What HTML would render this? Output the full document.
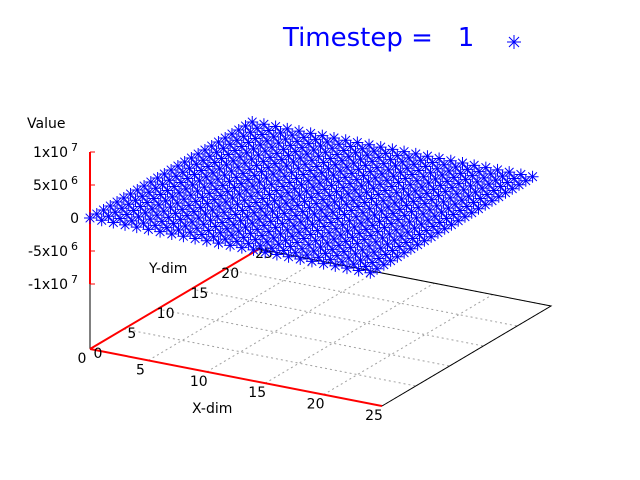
<!DOCTYPE html>
<html><head><meta charset="utf-8"><style>
body{margin:0;background:#fff}
svg{display:block;font-family:"DejaVu Sans","Liberation Sans",sans-serif}
</style></head><body>
<svg id="chart" width="640" height="480" viewBox="0 0 640 480" xmlns="http://www.w3.org/2000/svg">
<rect width="640" height="480" fill="#fff"/>
<g id="grid"></g>
<g id="axes"></g>
<g id="pts"></g>
<text x="283" y="46" font-size="26" fill="#0000ff" xml:space="preserve">Timestep =   1</text>
<g id="legend"></g>
</svg>
<script>
const xTicks=[0,5,10,15,20,25];
const yTicks=[0,5,10,15,20,25];
const zTicks=[1e7,5e6,0,-5e6,-1e7];
const zTickLabels=[["1x10","7"],["5x10","6"],["0",""],["-5x10","6"],["-1x10","7"]];
const xCoords=[0,1,2,3,4,5,6,7,8,9,10,11,12,13,14,15,16,17,18,19,20,21,22,23,24];
const yCoords=[0,1,2,3,4,5,6,7,8,9,10,11,12,13,14,15,16,17,18,19,20,21,22,23,24];
const zRow0=[0,0,0,0,0,0,0,0,0,0,0,0,0,0,0,0,0,0,0,0,0,0,0,0,0];
const zValues=[zRow0,zRow0,zRow0,zRow0,zRow0,zRow0,zRow0,zRow0,zRow0,zRow0,zRow0,zRow0,zRow0,zRow0,zRow0,zRow0,zRow0,zRow0,zRow0,zRow0,zRow0,zRow0,zRow0,zRow0,zRow0];

const NS="http://www.w3.org/2000/svg";
const O={x:90,y:349}, EX={x:292/25,y:57/25}, EY={x:169/25,y:-100/25};
const Z0=218, ZS=132/2e7;
function base(x,y){return {x:O.x+x*EX.x+y*EY.x, y:O.y+x*EX.y+y*EY.y};}
function proj(x,y,z){const b=base(x,y);return {x:b.x, y:b.y-(O.y-Z0)-z*ZS};}
function zY(z){return Z0-z*ZS;}
function el(tag,attrs,parent){const e=document.createElementNS(NS,tag);for(const k in attrs)e.setAttribute(k,attrs[k]);parent.appendChild(e);return e;}

const grid=document.getElementById('grid');
for(const t of xTicks){ if(t===0)continue;
  const a=base(t,0),b=base(t,25);
  const l=el('line',{x1:a.x,y1:a.y,x2:b.x,y2:b.y,stroke:'#a0a0a0','stroke-width':1,'stroke-dasharray':'2,3'},grid);
  
  
}
for(const t of yTicks){ if(t===0)continue;
  const a=base(0,t),b=base(25,t);
  const l=el('line',{x1:a.x,y1:a.y,x2:b.x,y2:b.y,stroke:'#a0a0a0','stroke-width':1,'stroke-dasharray':'2,3'},grid);
  
  
}
const axes=document.getElementById('axes');
{
  const a=base(25,0),b=base(25,25),c=base(0,25);
  const p=el('polyline',{points:`${a.x},${a.y} ${b.x},${b.y} ${c.x},${c.y}`,fill:'none',stroke:'#000','stroke-width':1},axes);
  
  
  const v=el('line',{x1:O.x,y1:O.y,x2:O.x,y2:zY(-1e7),stroke:'#000','stroke-width':1},axes);
  
  
  const xa=base(25,0);
  const xl=el('line',{x1:O.x,y1:O.y,x2:xa.x,y2:xa.y,stroke:'#ff0000','stroke-width':2},axes);
  
  
  const ya=base(0,25);
  const yl=el('line',{x1:O.x,y1:O.y,x2:ya.x,y2:ya.y,stroke:'#ff0000','stroke-width':2},axes);
  
  
  const zl=el('line',{x1:O.x,y1:zY(1e7),x2:O.x,y2:zY(-1e7),stroke:'#ff0000','stroke-width':2},axes);
  
  
}
for(const t of xTicks){
  const b=base(t,0);
  const tx=el('text',{x:b.x-8,y:b.y+14,'font-size':14,fill:'#000','text-anchor':'middle'},axes);
  tx.textContent=t;
  
  
}
for(const t of yTicks){
  const b=base(0,t);
  const tx=el('text',{x:b.x+(t>=20?5:8),y:b.y+9,'font-size':14,fill:'#000','text-anchor':'middle'},axes);
  tx.textContent=t;
  
  
}
zTicks.forEach((t,i)=>{
  const y=zY(t);
  const tk=el('line',{x1:O.x,y1:y,x2:O.x+5,y2:y,stroke:'#ff0000','stroke-width':1},axes);
  
  
  const tx=el('text',{x:zTickLabels[i][1]?68:79,y:y+5,'font-size':14,fill:'#000','text-anchor':'end'},axes);
  tx.textContent=zTickLabels[i][0];
  
  
  if(zTickLabels[i][1]){
    const s=el('text',{x:71,y:y-1,'font-size':11,fill:'#000'},axes);
    s.textContent=zTickLabels[i][1];
    
    
  }
});
[['X-dim',192,413,'x-axis-title'],['Y-dim',149,273,'y-axis-title'],['Value',27,128,'z-axis-title']].forEach(d=>{
  const tx=el('text',{x:d[1],y:d[2],'font-size':14,fill:'#000'},axes);
  tx.textContent=d[0];
  
  
});

function star(g,cx,cy,r){
  const d=r*0.72;
  return el('path',{d:`M${cx-r},${cy}H${cx+r}M${cx},${cy-r}V${cy+r}M${cx-d},${cy-d}L${cx+d},${cy+d}M${cx-d},${cy+d}L${cx+d},${cy-d}`,stroke:'#0000ff','stroke-width':1,fill:'none'},g);
}
const pts=document.getElementById('pts');
for(let j=yCoords.length-1;j>=0;j--){
  for(let i=0;i<xCoords.length;i++){
    const p=proj(xCoords[i],yCoords[j],zValues[j][i]);
    const s=star(pts,p.x,p.y,6);
    
    
  }
}
const lg=document.getElementById('legend');
const ls=star(lg,514,42,7);


</script>
</body></html>
